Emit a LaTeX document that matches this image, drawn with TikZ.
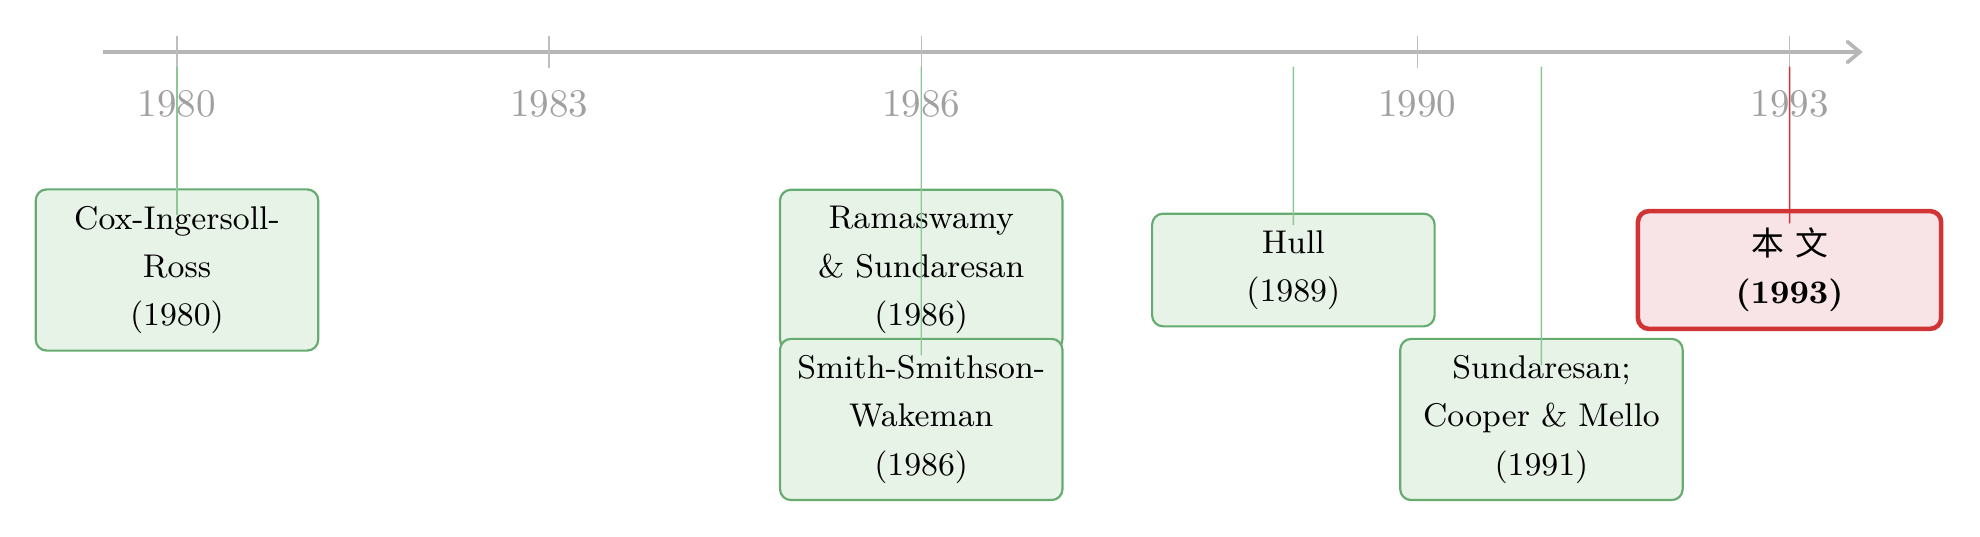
\documentclass[tikz,border=0pt]{standalone}
\usepackage{fontspec}
\usepackage{tikz}
\usepackage{xcolor}
\usetikzlibrary{arrows.meta, positioning, calc}
\newfontfamily\cjk{Noto Sans CJK SC}
\definecolor{cAxis}{RGB}{182,182,182}
\definecolor{cTick}{RGB}{190,190,190}
\definecolor{cYear}{RGB}{160,160,160}
\definecolor{cGreen}{RGB}{102,172,112}
\definecolor{cGreenFill}{RGB}{232,243,232}
\definecolor{cGreenLine}{RGB}{140,200,150}
\definecolor{cRed}{RGB}{208,52,52}
\definecolor{cRedFill}{RGB}{248,228,230}
\tikzset{
	timeaxis/.style ={line width=1pt, cAxis, -{Straight Barb[length=1.2mm, width=2mm, line cap=round]}},
	tick/.style     ={thin, cTick},
	yearlbl/.style  ={text=cYear, font=\fontsize{10.7}{12.8}\selectfont},
	work/.style     ={rectangle, rounded corners=3pt, draw=cGreen, line width=0.6pt, fill=cGreenFill, align=center, text width=2.44cm, inner xsep=4pt, inner ysep=4.6pt, font=\small\linespread{1.2}\selectfont},
	ours/.style     ={work, draw=cRed, line width=1.25pt, fill=cRedFill, text width=2.64cm},
	marker/.style   ={thin, cGreenLine},
	markerred/.style={thin, cRed},
}
\begin{document}
\begin{tikzpicture}
	\useasboundingbox (-1.705,-4.672) rectangle (17.37,0.501);
	% axis with ticks and years
	\draw[timeaxis] (-0.71,0) -- (16.24,0);
	\foreach \yr in {1980,1983,1986,1990,1993} {
		\pgfmathsetmacro{\xx}{(\yr-1980)*1.195}
		\draw[tick] (\xx,0.155) -- (\xx,-0.155);
		\node[yearlbl] (y\yr) at (\xx,-0.5) {\yr};
	}
	% start points of the markers
	\foreach \yr in {1980,1986,1989,1991,1993} {
		\pgfmathsetmacro{\xx}{(\yr-1980)*1.195}
		\coordinate (t\yr) at (\xx,-0.14);
	}
	% works
	\node[work] (cir) at (0,-2.1) {Cox-Ingersoll-\\Ross\\(1980)};
	\node[work] (rs) at (7.17,-2.1) {Ramaswamy\\\& Sundaresan\\(1986)};
	\node[work] (ssw) at (7.17,-3.54) {Smith-Smithson-\\Wakeman\\(1986)};
	\node[work] (hull) at (10.755,-2.1) {Hull\\(1989)};
	\node[work] (scm) at (13.145,-3.54) {Sundaresan;\\Cooper \& Mello\\(1991)};
	\node[ours] (this) at (15.535,-2.1) {{\cjk 本 文}\\\textbf{(1993)}};
	% markers
	\draw[marker, shorten >=-0.26cm] (t1980) -- (cir.north);
	\draw[marker, shorten >=-0.17cm] (t1986) -- (ssw.north);
	\draw[marker, shorten >=-0.12cm] (t1989) -- (hull.north);
	\draw[marker, shorten >=-0.265cm] (t1991) -- (scm.north);
	\draw[markerred, shorten >=-0.14cm] (t1993) -- (this.north);
\end{tikzpicture}
\end{document}
